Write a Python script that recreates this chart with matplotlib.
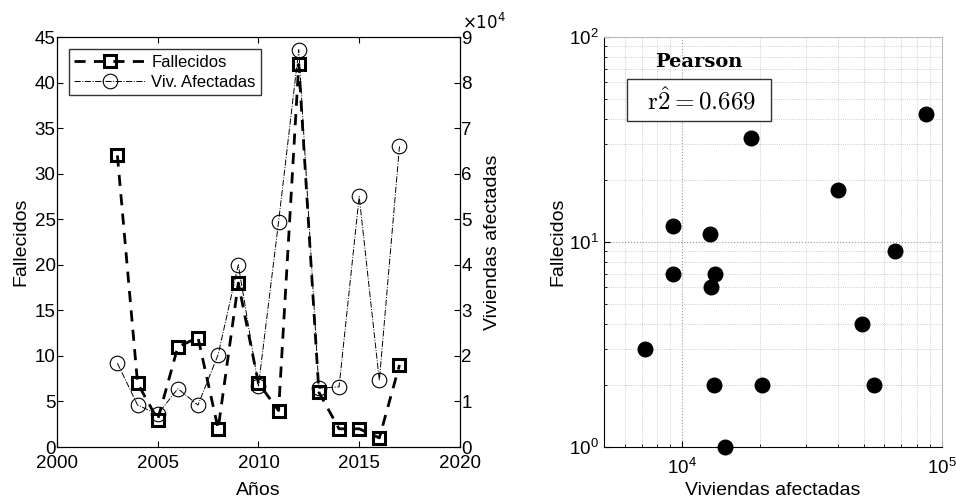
import matplotlib
matplotlib.use("Agg")
import matplotlib.pyplot as plt
from matplotlib.ticker import FuncFormatter, LogLocator, NullFormatter

plt.rcParams.update({
    "font.family": "Liberation Sans",
    "mathtext.fontset": "cm",
    "xtick.direction": "in",
    "ytick.direction": "in",
})

# === Data ===
years = [2003, 2004, 2005, 2006, 2007, 2008, 2009, 2010,
         2011, 2012, 2013, 2014, 2015, 2016, 2017]
fallecidos = [32, 7, 3, 11, 12, 2, 18, 7, 4, 42, 6, 2, 2, 1, 9]
viviendas = [18400, 9200, 7200, 12800, 9200, 20300, 40000, 13400,
             49500, 87200, 12900, 13200, 55000, 14600, 66000]
pearson_label = "  " + r"$\mathrm{r}\hat{2} = 0.669$" + "  "

TICK_FS = 13.5
LABEL_FS = 14

fig = plt.figure(figsize=(9.56, 5.0), dpi=100)

# %% === Left: time series with twin axis ===
ax1 = fig.add_axes([0.0596, 0.106, 0.4215, 0.820])
ax1.plot(years, fallecidos, linestyle=(0, (4, 3)), color="black", linewidth=2.0,
         marker="s", markersize=9, markerfacecolor="none",
         markeredgewidth=2.2, markeredgecolor="black", label="Fallecidos")
ax1.set_xlim(2000, 2020)
ax1.set_ylim(0, 45)
ax1.set_xticks([2000, 2005, 2010, 2015, 2020])
ax1.set_yticks(range(0, 46, 5))
ax1.set_xlabel("Años", fontsize=LABEL_FS, labelpad=7)
ax1.set_ylabel("Fallecidos", fontsize=LABEL_FS, labelpad=4)
ax1.tick_params(axis="y", labelsize=TICK_FS, length=4, pad=1)
ax1.tick_params(axis="x", labelsize=TICK_FS, top=True, length=4, pad=6)

ax2 = ax1.twinx()
ax2.plot(years, viviendas, linestyle="-.", color="black", linewidth=0.7,
         marker="o", markersize=10.5, markerfacecolor="none",
         markeredgewidth=0.8, markeredgecolor="black", label="Viv. Afectadas")
ax2.set_ylim(0, 9e4)
ax2.set_yticks([i * 1e4 for i in range(10)])
ax2.yaxis.set_major_formatter(FuncFormatter(lambda v, p: f"{v / 1e4:g}"))
ax2.set_ylabel("Viviendas afectadas", fontsize=LABEL_FS, labelpad=9)
ax2.tick_params(labelsize=TICK_FS, length=4, pad=1)
ax2.text(1.005, 1.012, r"$\times10^{4}$", transform=ax2.transAxes,
         fontsize=12, ha="left", va="bottom", math_fontfamily="dejavusans")

h1, l1 = ax1.get_legend_handles_labels()
h2, l2 = ax2.get_legend_handles_labels()
leg = ax1.legend(h1 + h2, l1 + l2, loc="upper left", fontsize=12,
                 fancybox=False, edgecolor="#333333", framealpha=1,
                 borderaxespad=0.7, handlelength=4.3, borderpad=0.35,
                 labelspacing=0.3, handletextpad=0.3)
leg.get_frame().set_linewidth(1.0)

# %% === Right: scatter log-log ===
ax3 = fig.add_axes([0.632, 0.106, 0.353, 0.820])
ax3.scatter(viviendas, fallecidos, s=110, color="black", zorder=3, clip_on=False)
ax3.set_xscale("log")
ax3.set_yscale("log")
ax3.set_xlim(5000, 1e5)
ax3.set_ylim(1, 100)
ax3.xaxis.set_minor_locator(LogLocator(base=10, subs=range(2, 10)))
ax3.yaxis.set_minor_locator(LogLocator(base=10, subs=range(2, 10)))
ax3.xaxis.set_minor_formatter(NullFormatter())
ax3.yaxis.set_minor_formatter(NullFormatter())
ax3.grid(which="major", linestyle=":", color="#999999", linewidth=0.8)
ax3.grid(which="minor", linestyle=":", color="#bbbbbb", linewidth=0.6)
ax3.set_axisbelow(True)
for side in ["top", "right"]:
    ax3.spines[side].set_color("#bbbbbb")
ax3.tick_params(axis="y", labelsize=TICK_FS, length=4, pad=4)
ax3.tick_params(axis="x", labelsize=TICK_FS, length=4, pad=8)
ax3.tick_params(which="minor", length=2)
ax3.set_xlabel("Viviendas afectadas", fontsize=LABEL_FS, labelpad=3)
ax3.set_ylabel("Fallecidos", fontsize=LABEL_FS, labelpad=2)

ax3.text(0.28, 0.939, "Pearson", transform=ax3.transAxes, fontsize=14,
         fontweight="bold", family="DejaVu Serif", ha="center", va="center")
ax3.text(0.28, 0.846, pearson_label, transform=ax3.transAxes, fontsize=18,
         ha="center", va="center",
         bbox=dict(boxstyle="square,pad=0.28", facecolor="white",
                   edgecolor="#333333", linewidth=1.0))

fig.savefig("out.png", dpi=100)
